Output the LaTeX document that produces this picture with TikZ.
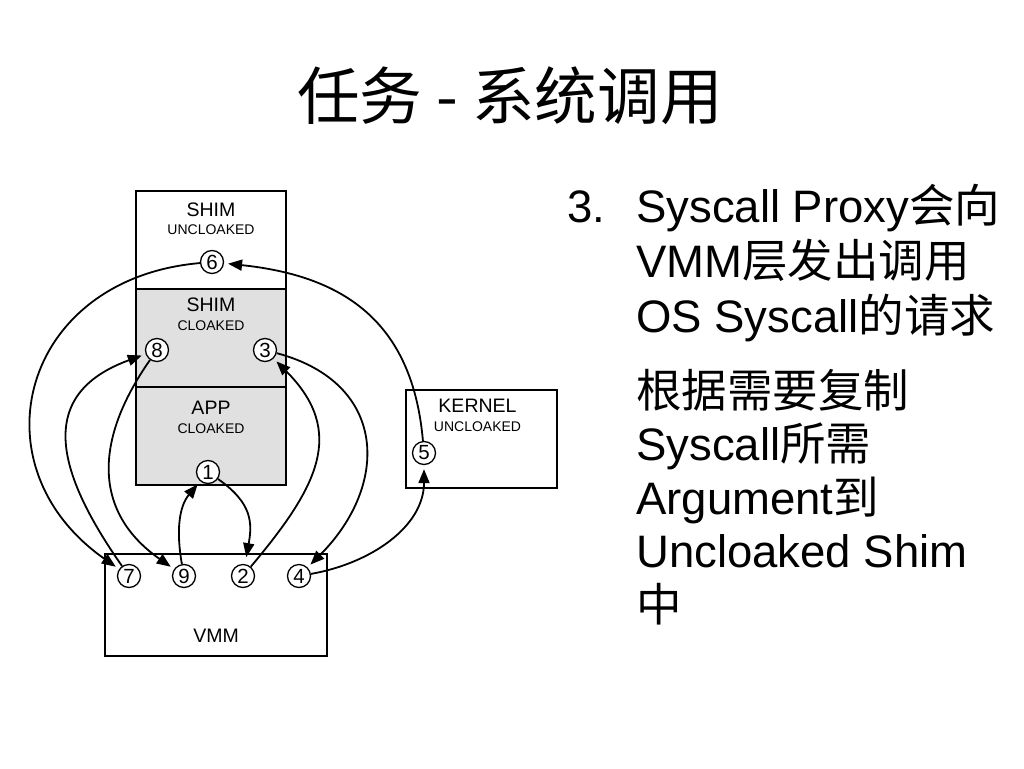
\documentclass[tikz,border=0pt]{standalone}
\usepackage{fontspec}
\setmainfont{Liberation Sans}
\newfontfamily\cjk{Noto Sans CJK SC}
\usepackage{xcolor}
\colorlet{colorCloaked}{black!12}
\colorlet{colorFlow}{black}
\usetikzlibrary{arrows.meta, positioning}
\tikzset{
  layer/.style={draw, line width=2.8pt, minimum width=150pt, minimum height=98pt, inner sep=0pt, outer sep=0pt},
  cloaked/.style={layer, fill=colorCloaked},
  boxtitle/.style={inner sep=0pt, text height=14pt, text depth=0pt, font=\fontsize{19.5}{20}\selectfont},
  boxsub/.style={inner sep=0pt, text height=10.2pt, text depth=0pt, font=\fontsize{14}{14}\selectfont},
  stepnum/.style={circle, draw, fill=white, line width=1.3pt, inner sep=0pt, minimum size=23pt, font=\fontsize{20.5}{21}\selectfont},
  flow/.style={->, colorFlow, line width=1.8pt, shorten >=4pt},
  bodytext/.style={inner sep=0pt, align=left, font=\fontsize{45.5}{54.5}\selectfont}
}

\begin{document}
\begin{tikzpicture}[x=1pt, y=1pt, >={Triangle[length=14pt, width=11pt]}]
\useasboundingbox (0,0) rectangle (1024,-768);
\node[anchor=base, inner sep=0pt, font=\fontsize{62.6}{70}\selectfont\cjk] (title) at (510,-119) {任务 - 系统调用};

\node[layer] (shimU) at (211,-240) {};
\node[cloaked, below=0pt of shimU] (shimC) {};
\node[cloaked, below=0pt of shimC] (app) {};
\node[layer, minimum width=151pt, right=120pt of app, yshift=-3pt] (kernel) {};
\node[layer, minimum width=222pt, minimum height=102pt, below=69pt of app, xshift=5pt] (vmm) {};

\node[boxtitle, below=11pt of shimU.north] (shimUt) {SHIM};
\node[boxsub, below=7.5pt of shimUt] (shimUs) {UNCLOAKED};
\node[boxtitle, below=8pt of shimC.north] (shimCt) {SHIM};
\node[boxsub, below=9pt of shimCt] (shimCs) {CLOAKED};
\node[boxtitle, below=13.5pt of app.north] (appt) {APP};
\node[boxsub, below=8pt of appt] (apps) {CLOAKED};
\node[boxtitle, below=8pt of kernel.north, xshift=-4pt] (kernelt) {KERNEL};
\node[boxsub, below=9pt of kernelt] (kernels) {UNCLOAKED};
\node[boxtitle, above=13pt of vmm.south] (vmmt) {VMM};

\node[stepnum] (n1) at (208,-472) {1};
\node[stepnum] (n2) at (243,-576) {2};
\node[stepnum] (n3) at (265,-350) {3};
\node[stepnum] (n4) at (299,-576) {4};
\node[stepnum] (n5) at (424,-453) {5};
\node[stepnum] (n6) at (212,-262) {6};
\node[stepnum] (n7) at (129,-576) {7};
\node[stepnum] (n8) at (157,-350) {8};
\node[stepnum] (n9) at (184,-576) {9};

\draw [flow, shorten >=7pt] (n1) edge [out=-35, in=80, looseness=1.2] (n2);
\draw [flow] (n2) edge [out=50, in=-45, looseness=1.27] (n3);
\draw [flow] (n3) edge [out=-15, in=45, looseness=1.37] (n4);
\draw [flow] (n4) edge [out=10, in=-90] (n5);
\draw [flow] (n5) edge [out=95, in=-6, looseness=1.15] (n6);
\draw [flow] (n6) edge [out=185, in=145, looseness=1.45] (n7);
\draw [flow] (n7) edge [out=125, in=-160, looseness=1.4] (n8);
\draw [flow] (n8) edge [out=-125, in=145, looseness=1.2] (n9);
\draw [flow] (n9) edge [out=100, in=-130] (n1);

\node[anchor=base west, inner sep=0pt, font=\fontsize{45.5}{54.5}\selectfont] (itemnum) at (567,-222) {3.};
\node[bodytext, font=\fontsize{45.5}{55}\selectfont, anchor=base west] (para1) at (636,-332) {Syscall Proxy{\cjk 会向}\\VMM{\cjk 层发出调用}\\OS Syscall{\cjk 的请求}};
\node[bodytext, font=\fontsize{45.5}{53.5}\selectfont, anchor=base west] (para2) at (636,-621) {{\cjk 根据需要复制}\\Syscall{\cjk 所需}\\Argument{\cjk 到}\\Uncloaked Shim\\{\cjk 中}};
\end{tikzpicture}
\end{document}
